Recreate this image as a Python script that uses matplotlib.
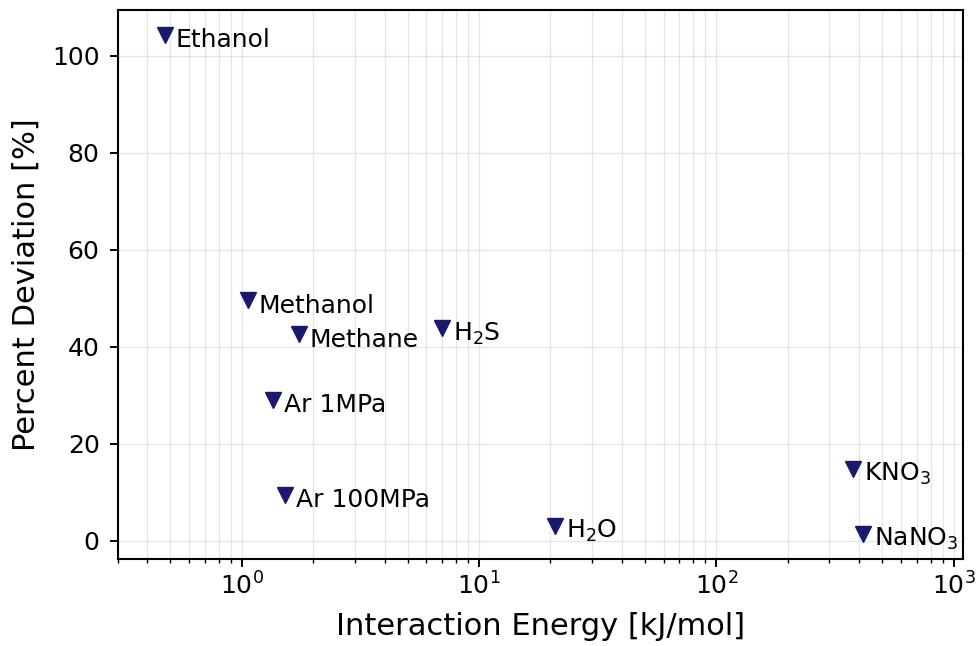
import numpy as np
import matplotlib
matplotlib.use("Agg")
import matplotlib.pyplot as plt

labels = ["Ethanol", "Methanol", "Methane", r"H$_2$S", "Ar 1MPa", "Ar 100MPa",
          r"H$_2$O", r"KNO$_3$", r"NaNO$_3$"]
energy = [0.473, 1.06, 1.74, 6.98, 1.35, 1.52, 20.9, 378, 417]
deviation = [104.3, 49.6, 42.6, 43.8, 29.0, 9.5, 3.1, 14.8, 1.4]

plt.rcParams["xtick.labelsize"] = 18
plt.rcParams["ytick.labelsize"] = 18
plt.rcParams["ytick.major.pad"] = 7

fig, ax = plt.subplots(figsize=(9.8, 6.46), dpi=100)
ax.plot(energy, deviation, linestyle="none", marker="v", markersize=12,
        color="midnightblue", zorder=3)
for lab, x, y in zip(labels, energy, deviation):
    ax.annotate(lab, (x, y), xytext=(8, -4), textcoords="offset points",
                va="center", ha="left", fontsize=18)

ax.set_xscale("log")
ax.set_xlim(0.3, 1100)
ax.set_xlabel("Interaction Energy [kJ/mol]", fontsize=22, labelpad=9)
ax.set_ylabel("Percent Deviation [%]", fontsize=22, labelpad=8)
ax.tick_params(which="major", length=6, width=1.4)
ax.tick_params(which="minor", length=3, width=1)
ax.grid(True, which="both", color="lightgray", alpha=0.55, linewidth=1)
for s in ax.spines.values():
    s.set_linewidth(1.5)

fig.subplots_adjust(left=0.12, right=0.983, top=0.985, bottom=0.135)
fig.savefig("out.png", dpi=100)
